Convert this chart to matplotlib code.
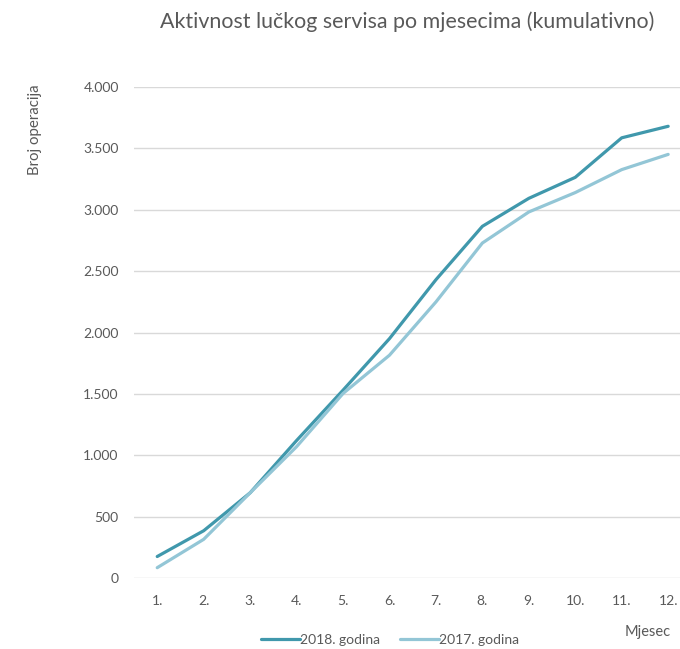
import matplotlib.pyplot as plt
from matplotlib.ticker import FuncFormatter

months = list(range(1, 13))
month_labels = [f"{m}." for m in months]
y2018 = [175, 385, 694, 1120, 1530, 1950, 2430, 2865, 3093, 3264, 3586, 3680]
y2017 = [84, 315, 694, 1070, 1503, 1815, 2249, 2729, 2982, 3140, 3327, 3451]

plt.rcParams['font.family'] = ['Lato', 'DejaVu Sans']

text_gray = '#595959'
grid_gray = '#D9D9D9'

fig = plt.figure(figsize=(6.8, 6.49), dpi=100)
ax = fig.add_axes([134 / 680, 1 - 578 / 649, 546 / 680, 491 / 649])

ax.plot(months, y2018, color='#4098AC', linewidth=2.3, label='2018. godina',
        solid_capstyle='round', clip_on=False)
ax.plot(months, y2017, color='#93C6D6', linewidth=2.3, label='2017. godina',
        solid_capstyle='round', clip_on=False)

ax.set_ylim(0, 4000)
ax.set_xlim(0.5, 0.5 + 546 / 46.45)
ax.set_yticks(range(0, 4001, 500))
ax.yaxis.set_major_formatter(FuncFormatter(lambda v, p: f"{int(v):,}".replace(",", ".")))
ax.set_xticks(months)
ax.set_xticklabels(month_labels)

ax.grid(axis='y', color=grid_gray, linewidth=1)
ax.set_axisbelow(True)
for s in ax.spines.values():
    s.set_visible(False)
ax.tick_params(axis='both', length=0, colors=text_gray, labelsize=10)
ax.tick_params(axis='y', pad=11)
ax.tick_params(axis='x', pad=12)

fig.text(407 / 680, 1 - 22 / 649, 'Aktivnost lučkog servisa po mjesecima (kumulativno)',
         ha='center', va='center', fontsize=15.4, color=text_gray)
fig.text(35 / 680, 1 - 130 / 649, 'Broj operacija', rotation=90,
         ha='center', va='center', fontsize=10.8, color=text_gray)
fig.text(648 / 680, 1 - 632 / 649, 'Mjesec', ha='center', va='center',
         fontsize=10.5, color=text_gray)

fig.legend(loc='center', bbox_to_anchor=(390 / 680, 1 - 640 / 649), ncol=2,
           frameon=False, fontsize=10, labelcolor=text_gray, handlelength=2.8,
           handletextpad=0.0, columnspacing=1.5)

fig.savefig('out.png', dpi=100)
